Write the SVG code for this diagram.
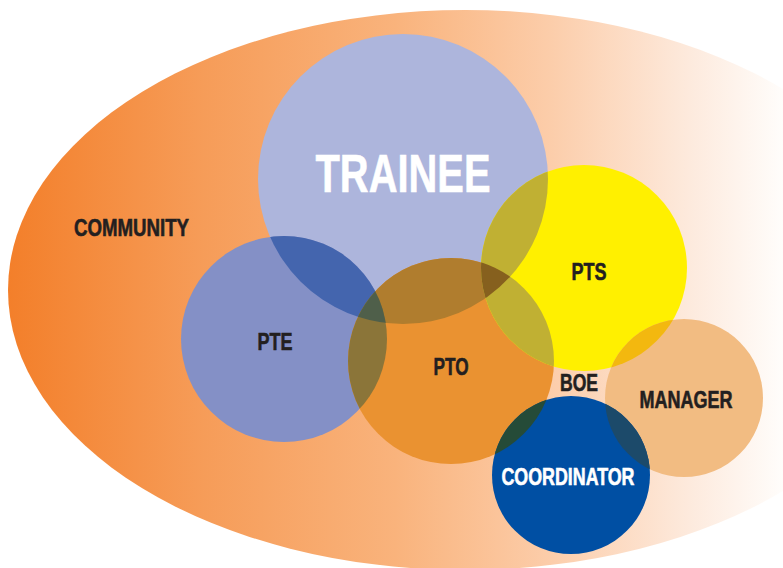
<svg xmlns="http://www.w3.org/2000/svg" width="783" height="568" viewBox="0 0 783 568">
<style>
.lbl{font-family:"Liberation Sans",Arial,sans-serif;font-weight:bold;fill:#231f20;stroke:#231f20;stroke-width:0.6;text-anchor:middle}
.w{fill:#ffffff;stroke:#ffffff}
</style>
<defs>
<linearGradient id="bg" gradientUnits="userSpaceOnUse" x1="8" y1="0" x2="783" y2="0">
<stop offset="0" stop-color="#f37f2a"/>
<stop offset="0.25" stop-color="#f69c58"/>
<stop offset="0.5" stop-color="#f9b37c"/>
<stop offset="0.7" stop-color="#fccdaa"/>
<stop offset="0.88" stop-color="#fdeadd"/>
<stop offset="1" stop-color="#fffdfb"/>
</linearGradient>
<clipPath id="cT"><circle cx="403" cy="179" r="145"/></clipPath>
<clipPath id="cPTE"><circle cx="284" cy="339" r="103"/></clipPath>
<clipPath id="cPTO"><circle cx="451" cy="361" r="103"/></clipPath>
<clipPath id="cPTS"><circle cx="584" cy="268" r="103"/></clipPath>
<clipPath id="cM"><circle cx="684" cy="398" r="79"/></clipPath>
<clipPath id="cTPTO" clip-path="url(#cT)"><circle cx="451" cy="361" r="103"/></clipPath>
</defs>
<g id="community">
<ellipse cx="465" cy="290" rx="457" ry="280" fill="url(#bg)"/>
<text class="lbl" x="131.5" y="236" font-size="23.5" textLength="115" lengthAdjust="spacingAndGlyphs">COMMUNITY</text>
</g>
<g id="trainee"><circle cx="403" cy="179" r="145" fill="#adb5dc"/></g>
<g id="pte"><circle cx="284" cy="339" r="103" fill="#8490c6"/></g>
<g id="pto"><circle cx="451" cy="361" r="103" fill="#ea9231"/></g>
<g id="pts"><circle cx="584" cy="268" r="103" fill="#fff000"/></g>
<g id="manager"><circle cx="684" cy="398" r="79" fill="#f2bc82"/></g>
<g id="coordinator"><circle cx="571" cy="475" r="79" fill="#004fa3"/></g>
<g id="overlaps">
<circle cx="284" cy="339" r="103" fill="#4465ae" clip-path="url(#cT)"/>
<circle cx="451" cy="361" r="103" fill="#b07d2e" clip-path="url(#cT)"/>
<circle cx="584" cy="268" r="103" fill="#c0b033" clip-path="url(#cT)"/>
<circle cx="584" cy="268" r="103" fill="#c0b033" clip-path="url(#cPTO)"/>
<circle cx="284" cy="339" r="103" fill="#8b7539" clip-path="url(#cPTO)"/>
<circle cx="284" cy="339" r="103" fill="#4f5f4a" clip-path="url(#cTPTO)"/>
<circle cx="584" cy="268" r="103" fill="#86601e" clip-path="url(#cTPTO)"/>
<circle cx="684" cy="398" r="79" fill="#f3b80f" clip-path="url(#cPTS)"/>
<circle cx="571" cy="475" r="79" fill="#254b38" clip-path="url(#cPTO)"/>
<circle cx="571" cy="475" r="79" fill="#1c4a6a" clip-path="url(#cM)"/>
</g>
<g id="labels">
<text class="lbl w" x="403" y="192" font-size="54" stroke-width="1.2" textLength="175" lengthAdjust="spacingAndGlyphs">TRAINEE</text>
<text class="lbl" x="589" y="280" font-size="23.5" textLength="35" lengthAdjust="spacingAndGlyphs">PTS</text>
<text class="lbl" x="275" y="350" font-size="23.5" textLength="35" lengthAdjust="spacingAndGlyphs">PTE</text>
<text class="lbl" x="451" y="375" font-size="23.5" textLength="35" lengthAdjust="spacingAndGlyphs">PTO</text>
<text class="lbl" x="579" y="391" font-size="23.5" textLength="38" lengthAdjust="spacingAndGlyphs">BOE</text>
<text class="lbl" x="686" y="408" font-size="23.5" textLength="93" lengthAdjust="spacingAndGlyphs">MANAGER</text>
<text class="lbl w" x="568" y="485" font-size="23.5" textLength="133" lengthAdjust="spacingAndGlyphs">COORDINATOR</text>
</g>
</svg>
